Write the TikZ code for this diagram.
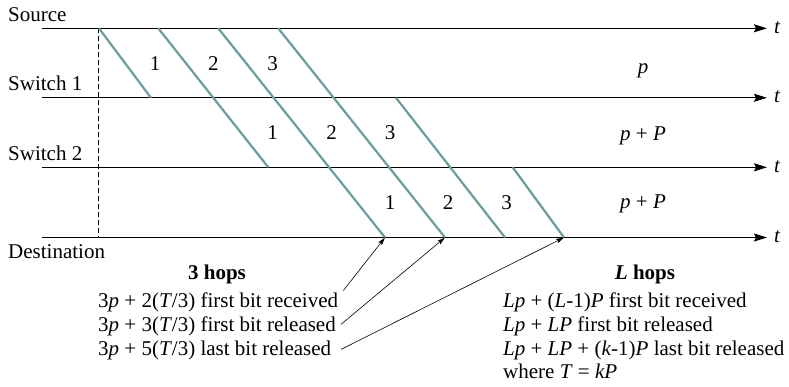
\documentclass[tikz,border=0pt]{standalone}
\usepackage{fontspec}
\setmainfont{Liberation Serif}
\usepackage{xcolor}
\usepackage{tikz}
\usetikzlibrary{arrows.meta, positioning, calc}
\definecolor{pktgray}{RGB}{110,155,155}
\tikzstyle{arrow} = [line width=1.2pt,-{Stealth[length=13pt,width=8pt,inset=2pt]}]
\tikzstyle{pointer} = [line width=0.6pt,-{Stealth[length=8pt,width=4.5pt,inset=1.5pt]}]

\begin{document}
\begin{tikzpicture}[
    x=1pt, y=-1pt,
    txt/.style={inner sep=0pt, font=\fontsize{21}{23.5}\selectfont},
    lbl/.style={txt, anchor=base west},
    num/.style={txt, anchor=base},
    pkt/.style={draw=pktgray, line width=2.2pt},
    startline/.style={line width=0.9pt, dash pattern=on 5pt off 3pt}
]
\useasboundingbox (0,0) rectangle (789,386);

\foreach \n/\y/\ly/\txt in {src/28.3/21/Source, swa/97.8/90.7/Switch 1, swb/167.3/160.7/Switch 2, dst/237.5/258.3/Destination}{
    \coordinate (\n) at (42,\y);
    \coordinate (\n-end) at (767,\y);
    \node[lbl] (\n-name) at (8,\ly) {\txt};
    \node[lbl] (\n-t) at (774,\y+5) {\textit{t}};
    \draw[arrow] (\n) -- (\n-end);
}

\coordinate (t0-top) at (98.3,28.3);
\coordinate (t0-bot) at (98.3,237.5);
\draw[startline] (t0-top) -- (t0-bot);

\foreach \n/\xa/\ya/\xb/\yb in {a/99/28.3/151/97.8, b/158.3/28.3/268.3/167.3, c/218.3/28.3/385/237.5, d/278.3/28.3/445/237.5, e/396/97.8/505/237.5, f/512.7/167.3/564/237.5}{
    \coordinate (\n0) at (\xa,\ya);
    \coordinate (\n1) at (\xb,\yb);
    \draw[pkt] (\n0) -- (\n1);
}

\foreach \x/\y/\k [count=\i] in {155/70/1, 213.3/70/2, 272.7/70/3, 272.7/139.3/1, 331.7/139.3/2, 390/139.3/3, 390/209/1, 448/209/2, 506.7/209/3}
    \node[num] (pk\i) at (\x,\y) {\k};

\node[num] (delay-a) at (643,73) {\textit{p}};
\node[num] (delay-b) at (643,140) {\textit{p} + \textit{P}};
\node[num] (delay-c) at (643,208.3) {\textit{p} + \textit{P}};

\node[num] (hops3) at (217,279.3) {\bfseries 3 hops};
\node[lbl] (r1) at (98,307.7) {3\textit{p} + 2(\textit{T}/3) first bit received};
\node[lbl] (r2) at (98,331.5) {3\textit{p} + 3(\textit{T}/3) first bit released};
\node[lbl] (r3) at (98,355.3) {3\textit{p} + 5(\textit{T}/3) last bit released};

\node[num] (hopsL) at (645,279.3) {\bfseries\textit{L} hops};
\node[lbl] (s1) at (503,307.7) {\textit{Lp} + (\textit{L}-1)\textit{P} first bit received};
\node[lbl] (s2) at (503,331.5) {\textit{Lp} + \textit{LP} first bit released};
\node[lbl] (s3) at (503,355.3) {\textit{Lp} + \textit{LP} + (\textit{k}-1)\textit{P} last bit released};
\node[lbl] (s4) at (503,378.7) {where \textit{T} = \textit{kP}};

\draw[pointer] ($(r1.east)+(5,-12)$) -- (c1);
\draw[pointer] ($(r2.east)+(5,-2)$) -- (d1);
\draw[pointer] ($(r3.east)+(10,-1)$) -- (f1);
\end{tikzpicture}
\end{document}
